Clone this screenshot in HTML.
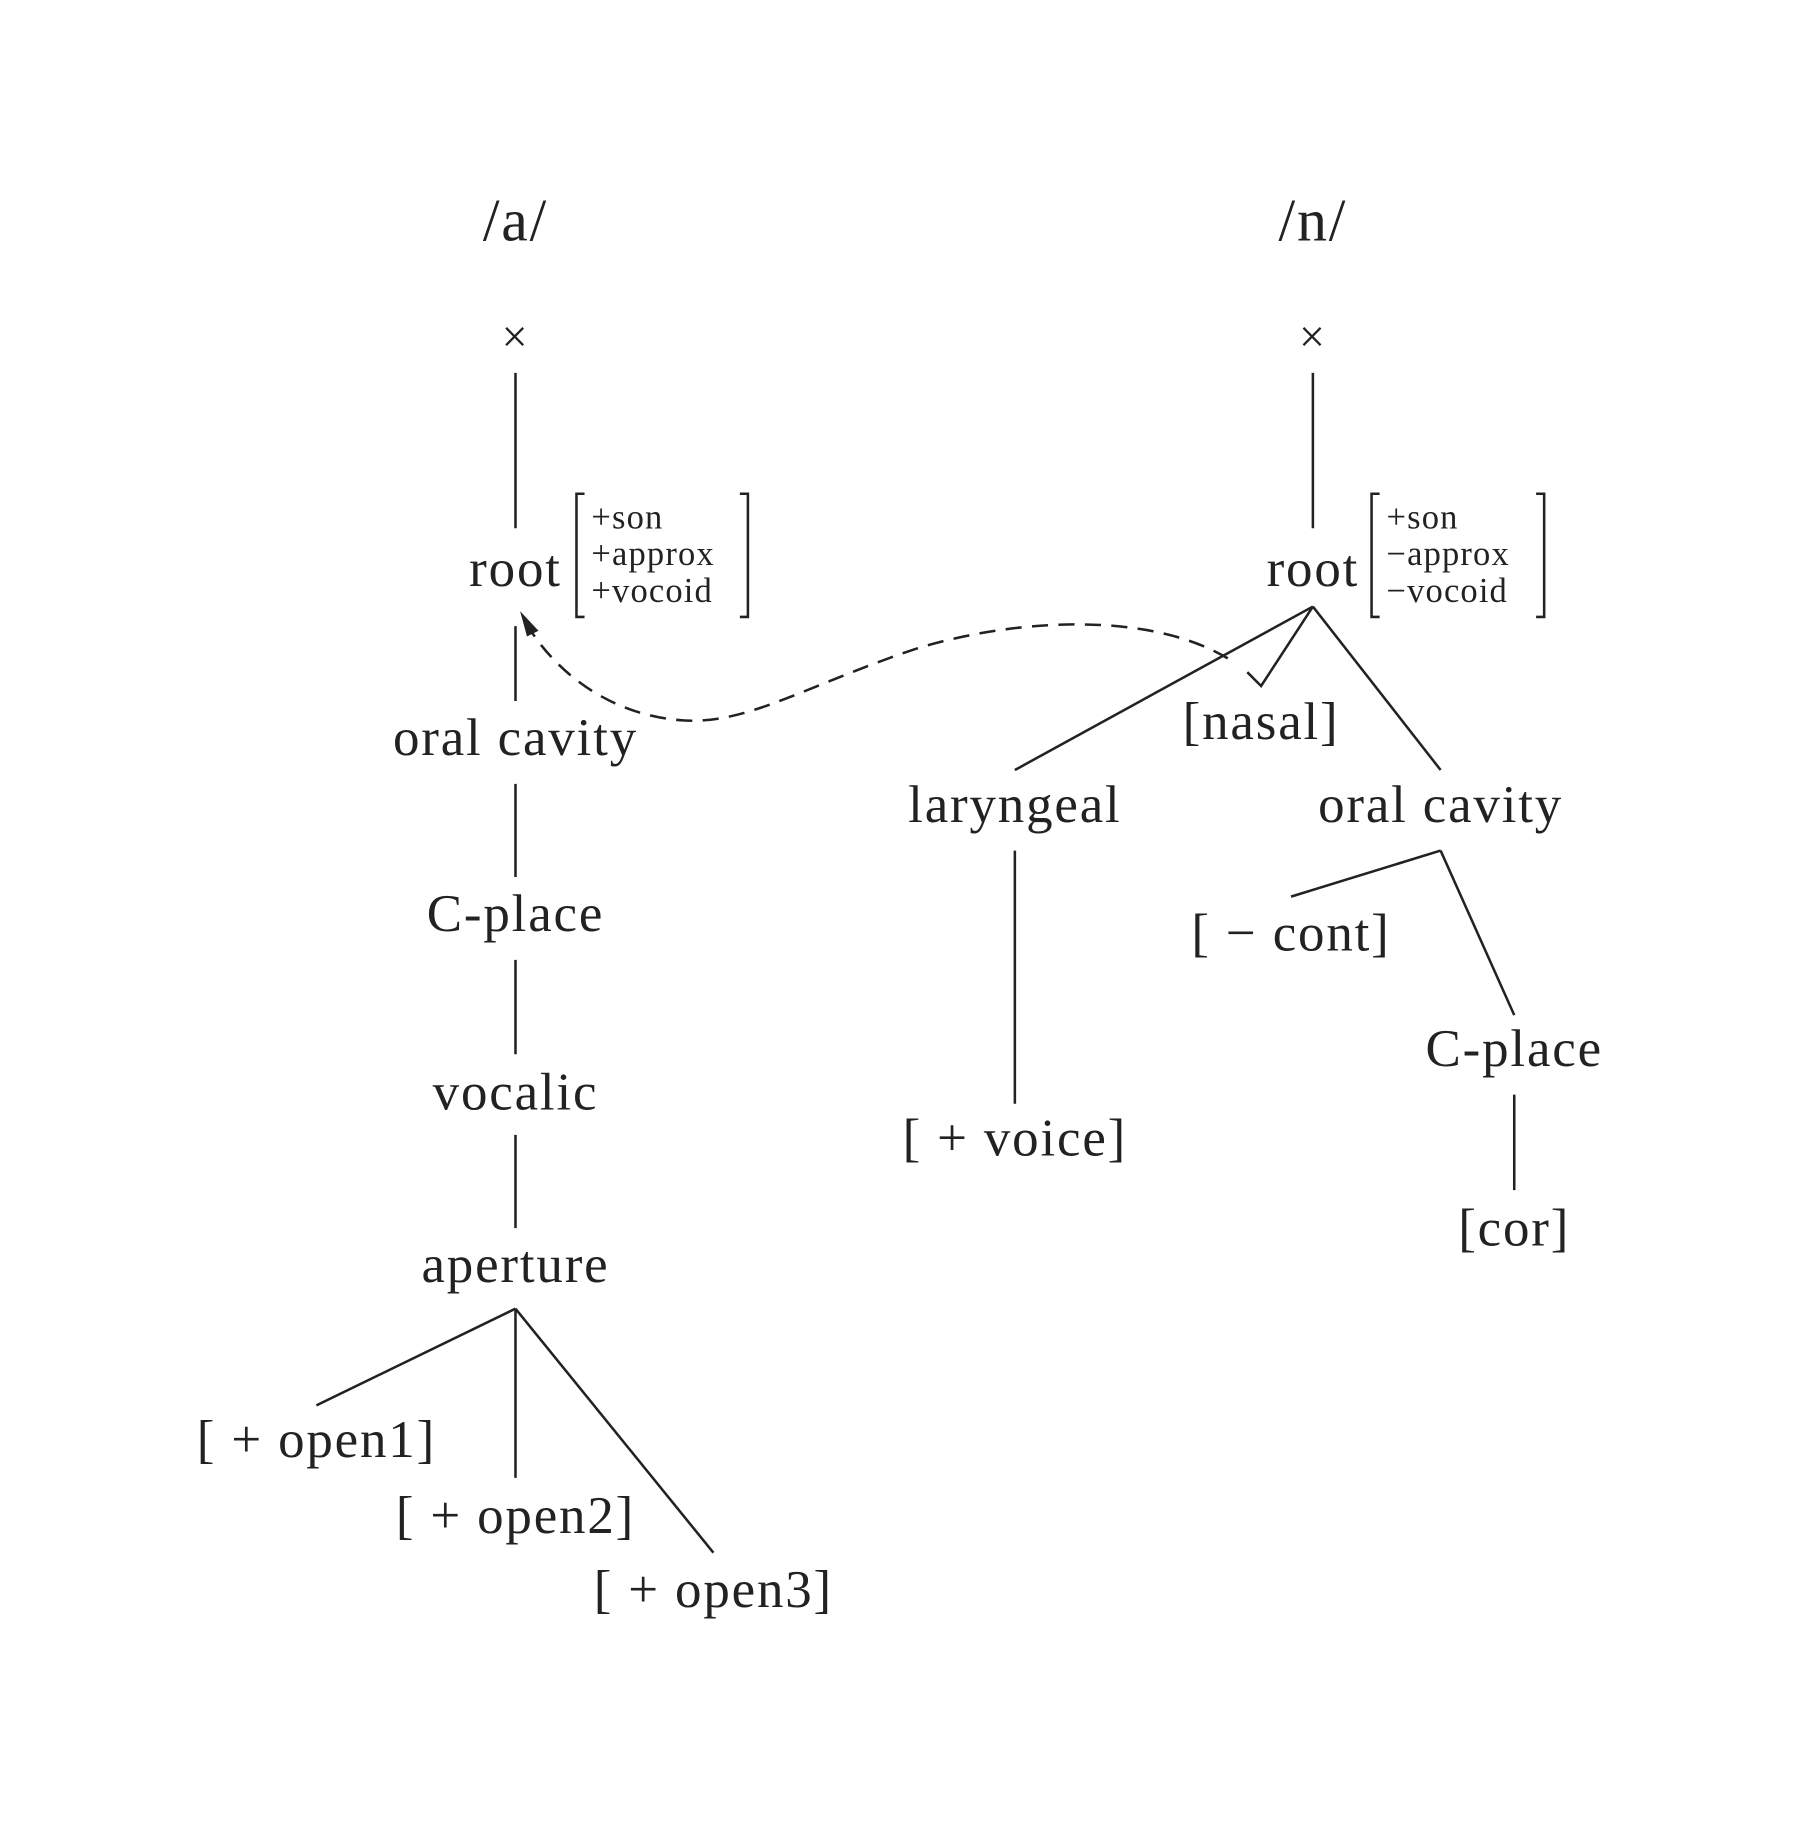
<!DOCTYPE html>
<html><head><meta charset="utf-8"><style>
html,body{margin:0;padding:0;background:#fff;}
svg{display:block;}
text{font-family:"Liberation Serif","DejaVu Serif",serif;fill:#222;}
.n{font-size:46px;text-anchor:middle;letter-spacing:1.6px;}
.f{font-size:30px;letter-spacing:1px;}
</style></head><body>
<svg width="1795" height="1822" viewBox="0 0 1560 1583" preserveAspectRatio="none" xmlns="http://www.w3.org/2000/svg">
<g transform="translate(0,4)">
<g stroke="#222" stroke-width="2.2" fill="none">
<line x1="448" y1="320" x2="448" y2="455"/>
<line x1="448" y1="540" x2="448" y2="605"/>
<line x1="448" y1="677" x2="448" y2="758"/>
<line x1="448" y1="830" x2="448" y2="912"/>
<line x1="448" y1="982" x2="448" y2="1063"/>
<line x1="448" y1="1133" x2="275" y2="1217"/>
<line x1="448" y1="1133" x2="448" y2="1280"/>
<line x1="448" y1="1133" x2="620" y2="1345"/>
<path d="M508,425 h-7 v107 h7 M643,425 h7 v107 h-7"/>
<path d="M1067,568 C995,525 875,535 795,560 C700,592 650,625 595,622 C530,618 485,580 462,545" stroke-dasharray="14,9"/>
</g>
<polygon points="452,527 468,544 458,549" fill="#222"/>
<g transform="translate(-6,0)">
<g stroke="#222" stroke-width="2.2" fill="none">
<line x1="1147" y1="320" x2="1147" y2="455"/>
<path d="M1205,425 h-7 v107 h7 M1341,425 h7 v107 h-7"/>
<line x1="1147" y1="523" x2="888" y2="665"/>
<polyline points="1147,523 1102,592 1090,580"/>
<line x1="1147" y1="523" x2="1258" y2="665"/>
<line x1="888" y1="735" x2="888" y2="955"/>
<line x1="1258" y1="735" x2="1128" y2="775"/>
<line x1="1258" y1="735" x2="1322" y2="878"/>
<line x1="1322" y1="947" x2="1322" y2="1030"/>
</g>
<text class="n" x="1147" y="205" style="font-size:52px">/n/</text>
<text class="n" x="1147" y="302" style="font-size:40px">×</text>
<text class="n" x="1147" y="505">root</text>
<text class="f" x="1211" y="455">+son</text>
<text class="f" x="1211" y="487">−approx</text>
<text class="f" x="1211" y="519">−vocoid</text>
<text class="n" x="1102" y="638">[nasal]</text>
<text class="n" x="888" y="710">laryngeal</text>
<text class="n" x="1258" y="710">oral cavity</text>
<text class="n" x="888" y="1000">[ + voice]</text>
<text class="n" x="1128" y="822">[ − cont]</text>
<text class="n" x="1322" y="922">C-place</text>
<text class="n" x="1322" y="1078">[cor]</text>
</g>
<text class="n" x="448" y="205" style="font-size:52px">/a/</text>
<text class="n" x="448" y="302" style="font-size:40px">×</text>
<text class="n" x="448" y="505">root</text>
<text class="f" x="514" y="455">+son</text>
<text class="f" x="514" y="487">+approx</text>
<text class="f" x="514" y="519">+vocoid</text>
<text class="n" x="448" y="652">oral cavity</text>
<text class="n" x="448" y="805">C-place</text>
<text class="n" x="448" y="960">vocalic</text>
<text class="n" x="448" y="1110">aperture</text>
<text class="n" x="275" y="1262">[ + open1]</text>
<text class="n" x="448" y="1328">[ + open2]</text>
<text class="n" x="620" y="1392">[ + open3]</text>
</g>
</svg>
</body></html>
